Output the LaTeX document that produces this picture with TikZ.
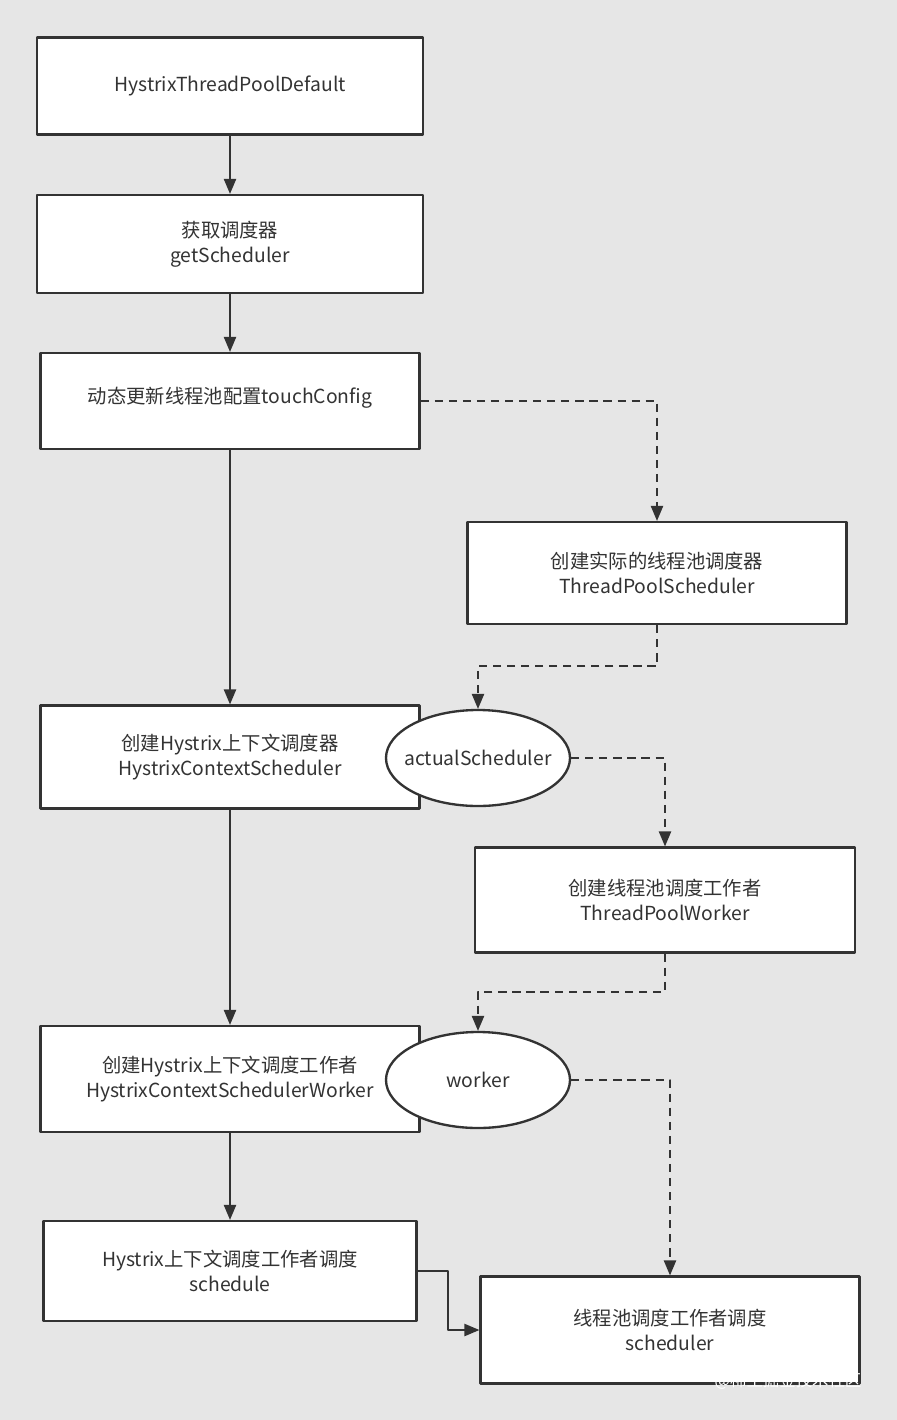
\documentclass[tikz,border=0pt]{standalone}
\usepackage{fontspec}
\setmainfont{Noto Sans CJK SC}
\usetikzlibrary{arrows,shapes.geometric}
\definecolor{bgcol}{HTML}{E6E6E6}
\definecolor{linecol}{HTML}{333333}
\begin{document}
\begin{tikzpicture}[x=0.03cm,y=-0.03cm,line join=round,>=triangle 45,line width=2pt,draw=linecol,color=linecol]
        \tikzset{box/.style={draw=linecol,fill=white,line width=2pt,align=center,text=linecol,font=\fontsize{16.5}{21}\selectfont},
                 oval/.style={draw=linecol,fill=white,ellipse,line width=2pt,text=linecol,minimum width=184*0.03cm,minimum height=96*0.03cm,inner xsep=-12pt,inner ysep=0pt,font=\fontsize{16.5}{21}\selectfont},
                 dashline/.style={dash pattern=on 7pt off 5pt}}
        \fill[bgcol] (0,0) rectangle (897,1420);
        \node[box,minimum width=386*0.03cm,minimum height=97*0.03cm] (tpd) at (230,86) {HystrixThreadPoolDefault};
        \node[box,minimum width=386*0.03cm,minimum height=98*0.03cm] (gs) at (230,244) {获取调度器\\getScheduler};
        \node[box,minimum width=379*0.03cm,minimum height=96*0.03cm] (tc) at (230,401) {\raisebox{10pt}{动态更新线程池配置touchConfig}};
        \node[box,minimum width=379*0.03cm,minimum height=102*0.03cm] (tps) at (657,573) {创建实际的线程池调度器\\ThreadPoolScheduler};
        \node[box,minimum width=379*0.03cm,minimum height=103*0.03cm] (hcs) at (230,757) {创建Hystrix上下文调度器\\HystrixContextScheduler};
        \node[oval] (as) at (478,758) {actualScheduler};
        \node[box,minimum width=380*0.03cm,minimum height=105*0.03cm] (tpw) at (665,900) {创建线程池调度工作者\\ThreadPoolWorker};
        \node[box,minimum width=379*0.03cm,minimum height=106*0.03cm] (hcw) at (230,1079) {创建Hystrix上下文调度工作者\\HystrixContextSchedulerWorker};
        \node[oval] (wk) at (478,1080) {worker};
        \node[box,minimum width=373*0.03cm,minimum height=100*0.03cm] (sch) at (230,1271) {Hystrix上下文调度工作者调度\\schedule};
        \node[box,minimum width=379*0.03cm,minimum height=107*0.03cm] (tpws) at (670,1330) {线程池调度工作者调度\\scheduler};
        % main chain
        \draw[->] (tpd) -- (gs);
        \draw[->] (gs) -- (tc);
        \draw[->] (tc) -- (hcs);
        \draw[->] (hcs) -- (hcw);
        \draw[->] (hcw) -- (sch);
        \draw[->] (sch.east) -- (448,1271) -- (448,1330) -- (tpws.west);
        % dashed side
        \draw[->,dashline] (tc.east) -| (tps.north);
        \draw[->,dashline] (tps.south) -- (657,666) -| (as.north);
        \draw[->,dashline] (as.east) -| (tpw.north);
        \draw[->,dashline] (tpw.south) -- (665,992) -| (wk.north);
        \draw[->,dashline] (wk.east) -| (tpws.north);
        \node[text=white,font=\fontsize{14}{16}\selectfont] (wm) at (788,1381) {@稀土掘金技术社区};
\end{tikzpicture}
\end{document}
